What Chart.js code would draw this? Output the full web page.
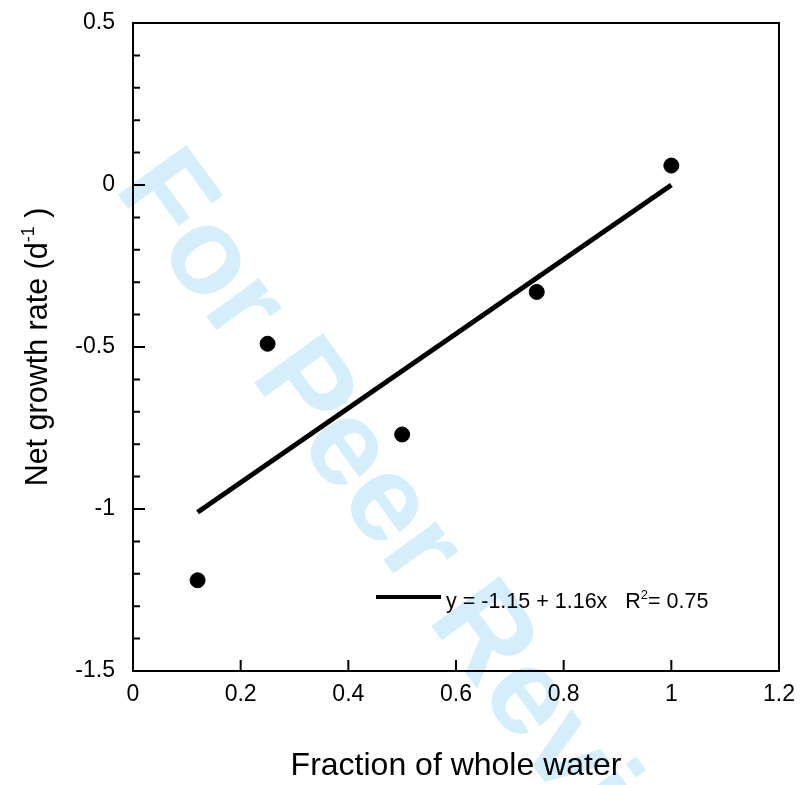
<!DOCTYPE html>
<html>
<head>
<meta charset="utf-8">
<script src="https://cdn.jsdelivr.net/npm/chart.js@4.4.1/dist/chart.umd.min.js"></script>
<style>
  html, body { margin: 0; padding: 0; background: #fff; }
  #wrap { width: 802px; height: 785px; }
</style>
</head>
<body>
<div id="wrap"><canvas id="myChart" width="802" height="785"></canvas></div>
<script>
// data
const fractionX = [0.12, 0.25, 0.5, 0.75, 1.0];
const growthY = [-1.22, -0.49, -0.77, -0.33, 0.06];

// regression line end points
const fitX = [0.12, 1.0];
const fitY = [-1.01, 0.0];

const xTicks = [0, 0.2, 0.4, 0.6, 0.8, 1, 1.2];
const xTickLabels = ["0", "0.2", "0.4", "0.6", "0.8", "1", "1.2"];
const yTicks = [-1.5, -1, -0.5, 0, 0.5];
const yTickLabels = ["-1.5", "-1", "-0.5", "0", "0.5"];
const yMinorTicks = [-1.4, -1.3, -1.2, -1.1, -0.9, -0.8, -0.7, -0.6, -0.4, -0.3, -0.2, -0.1, 0.1, 0.2, 0.3, 0.4];

const xTitle = [{ t: "Fraction of whole water" }];
const yTitle = [{ t: "Net growth rate (d" }, { t: "-1", sup: true }, { t: " )" }];
const fitLabel = [{ t: "y = -1.15 + 1.16x   R" }, { t: "2", sup: true }, { t: "= 0.75" }];
const watermark = "For Peer Review";

const FONT = '"Liberation Sans", Arial, Helvetica, sans-serif';

// draws text with optional superscript parts, centered or left aligned
function drawRich(ctx, parts, x, y, size, align) {
  const supSize = Math.round(size * 0.6);
  let total = 0;
  parts.forEach(p => {
    ctx.font = (p.sup ? supSize : size) + "px " + FONT;
    p.w = ctx.measureText(p.t).width;
    total += p.w;
  });
  let cx = align === "center" ? x - total / 2 : x;
  ctx.textBaseline = "alphabetic";
  ctx.textAlign = "left";
  parts.forEach(p => {
    ctx.font = (p.sup ? supSize : size) + "px " + FONT;
    ctx.fillText(p.t, cx, p.sup ? y - size * 0.42 : y);
    cx += p.w;
  });
}

function noPad(s) {
  s.paddingTop = 0;
  s.paddingBottom = 0;
  s.paddingLeft = 0;
  s.paddingRight = 0;
}

const decorPlugin = {
  id: "decor",
  beforeDraw(chart) {
    const ctx = chart.ctx;
    ctx.save();
    ctx.fillStyle = "#ffffff";
    ctx.fillRect(0, 0, chart.width, chart.height);
    // watermark behind everything
    ctx.translate(113, 188);
    ctx.rotate(54 * Math.PI / 180);
    ctx.font = "bold 123px " + FONT;
    ctx.fillStyle = "#d4effb";
    ctx.textBaseline = "alphabetic";
    ctx.fillText(watermark, 0, 0);
    ctx.restore();
  },
  beforeDatasetsDraw(chart) {
    const ctx = chart.ctx;
    const a = chart.chartArea;
    const xs = chart.scales.x;
    const ys = chart.scales.y;
    ctx.save();
    ctx.strokeStyle = "#000";
    ctx.lineWidth = 2;
    ctx.strokeRect(a.left, a.top, a.right - a.left, a.bottom - a.top);
    ctx.beginPath();
    yTicks.forEach(v => {
      const py = ys.getPixelForValue(v);
      ctx.moveTo(a.left, py);
      ctx.lineTo(a.left + 12, py);
    });
    yMinorTicks.forEach(v => {
      const py = ys.getPixelForValue(v);
      ctx.moveTo(a.left, py);
      ctx.lineTo(a.left + 7, py);
    });
    xTicks.forEach(v => {
      const px = xs.getPixelForValue(v);
      ctx.moveTo(px, a.bottom);
      ctx.lineTo(px, a.bottom - 11);
    });
    ctx.stroke();
    ctx.restore();
  },
  afterDraw(chart) {
    const ctx = chart.ctx;
    const a = chart.chartArea;
    ctx.save();
    ctx.fillStyle = "#000";
    // x title
    drawRich(ctx, xTitle, (a.left + a.right) / 2, 775, 32, "center");
    // y title
    ctx.save();
    ctx.translate(47, (a.top + a.bottom) / 2);
    ctx.rotate(-Math.PI / 2);
    drawRich(ctx, yTitle, 0, 0, 30.5, "center");
    ctx.restore();
    // legend for the fit line
    ctx.strokeStyle = "#000";
    ctx.lineWidth = 4;
    ctx.beginPath();
    ctx.moveTo(376, 597);
    ctx.lineTo(441, 597);
    ctx.stroke();
    drawRich(ctx, fitLabel, 446, 608, 21.5, "left");
    ctx.restore();
  }
};

const ctx = document.getElementById("myChart");

new Chart(ctx, {
  type: "scatter",
  data: {
    datasets: [
      {
        label: "Fit",
        type: "line",
        data: fitX.map((x, i) => ({ x: x, y: fitY[i] })),
        borderColor: "#000",
        borderWidth: 5,
        pointRadius: 0,
        fill: false
      },
      {
        label: "Observed",
        data: fractionX.map((x, i) => ({ x: x, y: growthY[i] })),
        backgroundColor: "#000",
        borderColor: "#000",
        pointRadius: 7.5,
        pointHoverRadius: 7.5
      }
    ]
  },
  options: {
    responsive: false,
    animation: false,
    layout: { padding: { top: 23, right: 23, left: 0, bottom: 0 } },
    plugins: {
      legend: { display: false },
      tooltip: { enabled: false }
    },
    scales: {
      x: {
        type: "linear",
        min: 0,
        max: 1.2,
        afterBuildTicks: s => { s.ticks = xTicks.map(v => ({ value: v })); },
        afterFit: s => { s.height = 114; noPad(s); },
        grid: { display: false, drawTicks: false, tickLength: 0 },
        border: { display: false },
        ticks: {
          padding: 10,
          maxRotation: 0,
          color: "#000",
          font: { family: FONT, size: 23 },
          callback: (v, i) => xTickLabels[i]
        }
      },
      y: {
        type: "linear",
        min: -1.5,
        max: 0.5,
        afterBuildTicks: s => { s.ticks = yTicks.map(v => ({ value: v })); },
        afterFit: s => { s.width = 133; noPad(s); },
        grid: { display: false, drawTicks: false, tickLength: 0 },
        border: { display: false },
        ticks: {
          padding: 18,
          color: "#000",
          font: { family: FONT, size: 23 },
          callback: (v, i) => yTickLabels[i]
        }
      }
    }
  },
  plugins: [decorPlugin]
});
</script>
</body>
</html>
